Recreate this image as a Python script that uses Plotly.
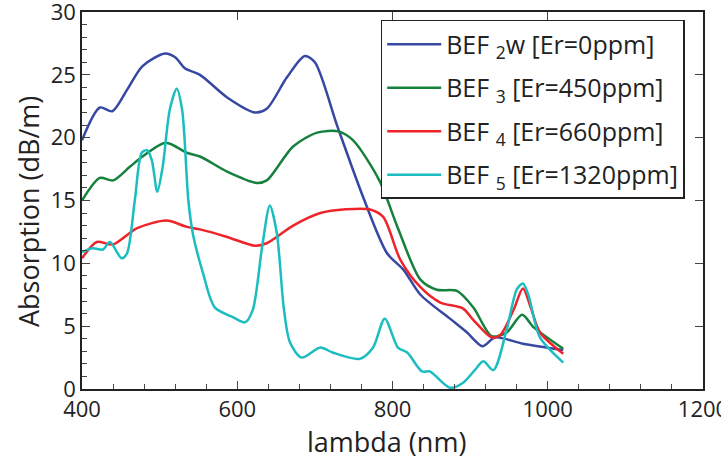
import plotly.graph_objects as go

# ---- data ----
lam_blue = [400, 423, 439, 458, 478, 507, 520, 533, 552, 587, 623, 638, 664, 687, 700, 729, 762,
            793, 814, 836, 874, 896, 916, 932, 968, 1020]
abs_blue = [19.8, 22.4, 22.1, 23.8, 25.7, 26.7, 26.4, 25.5, 25.0, 23.2, 22.0, 22.3, 24.8, 26.5, 26.0, 20.9, 15.3,
            10.8, 9.5, 7.5, 5.6, 4.5, 3.4, 4.1, 3.6, 3.1]

lam_green = [400, 423, 440, 462, 478, 508, 535, 552, 587, 625, 638, 672, 703, 730, 749, 783,
             807, 836, 857, 883, 904, 928, 947, 967, 982, 1020]
abs_green = [15.0, 16.8, 16.6, 17.7, 18.5, 19.6, 18.8, 18.5, 17.3, 16.4, 16.6, 19.3, 20.4, 20.5, 19.8, 16.6,
             12.8, 8.7, 7.9, 7.8, 6.5, 4.2, 4.5, 5.9, 4.9, 3.2]

lam_red = [400, 419, 440, 471, 509, 535, 552, 587, 623, 638, 672, 707, 740, 770, 788,
           810, 836, 861, 891, 904, 928, 939, 956, 968, 978, 990, 1020]
abs_red = [10.4, 11.7, 11.5, 12.8, 13.4, 12.9, 12.7, 12.1, 11.4, 11.6, 13.0, 14.0, 14.3, 14.3, 13.7,
           10.3, 8.1, 6.9, 6.4, 5.5, 4.1, 4.3, 6.3, 8.0, 6.5, 4.5, 2.8]

lam_cyan = [400, 414, 427, 436, 451, 458, 468, 477, 484, 490, 497, 504, 513, 522, 529, 537,
            543, 556, 571, 595, 610, 620, 632, 642, 651, 660, 668, 683, 707, 723, 758,
            775, 790, 807, 819, 838, 848, 874, 891, 906, 917, 930, 947, 960, 968, 975, 990, 1020]
abs_cyan = [10.9, 11.2, 11.1, 11.7, 10.4, 10.8, 15.0, 18.8, 19.0, 18.2, 15.7, 17.7, 22.2, 23.9, 22.2, 15.0,
            12.3, 9.2, 6.5, 5.7, 5.3, 6.3, 11.3, 14.6, 12.4, 6.4, 3.7, 2.5, 3.3, 2.9, 2.4,
            3.3, 5.6, 3.3, 2.9, 1.4, 1.4, 0.1, 0.5, 1.5, 2.2, 1.5, 4.7, 7.9, 8.4, 7.5, 4.1, 2.1]

names = ["BEF <sub>2</sub>w [Er=0ppm]", "BEF <sub>3</sub> [Er=450ppm]",
         "BEF <sub>4</sub> [Er=660ppm]", "BEF <sub>5</sub> [Er=1320ppm]"]
colors = ["#3748A3", "#15813D", "#EE242B", "#1CBDC0"]

x_ticks = [400, 600, 800, 1000, 1200]
y_ticks = [0, 5, 10, 15, 20, 25, 30]
x_title = "lambda (nm)"
y_title = "Absorption (dB/m)"

FONT = "Open Sans"
TXT = "#222"

fig = go.Figure()
series = [(lam_blue, abs_blue), (lam_green, abs_green), (lam_red, abs_red), (lam_cyan, abs_cyan)]
for i, ((xs, ys), nm, c) in enumerate(zip(series, names, colors)):
    fig.add_trace(go.Scatter(x=xs, y=ys, name=nm, mode="lines", legendgroup=f"g{i}",
                             line=dict(color=c, width=2.5, shape="spline", smoothing=0.8)))

# invisible trace for the mirrored (top/right) major ticks
fig.add_trace(go.Scatter(x=[400], y=[0], xaxis="x2", yaxis="y2", mode="markers",
                         marker=dict(opacity=0), showlegend=False, hoverinfo="skip"))

axis_common = dict(showgrid=False, zeroline=False, showline=True, linecolor=TXT,
                   linewidth=1.5, ticks="inside", tickcolor="#444", tickwidth=1.2,
                   ticklen=8, tickfont=dict(family=FONT, size=22, color=TXT),
                   automargin=False, ticklabeloverflow="allow", mirror=True)

fig.update_layout(
    width=721, height=458,
    margin=dict(l=82, r=18, t=12, b=69),
    paper_bgcolor="white", plot_bgcolor="white",
    font=dict(family=FONT, color=TXT),
    xaxis=dict(range=[400, 1200], tickvals=x_ticks, ticktext=[str(v) for v in x_ticks],
               minor=dict(dtick=40, ticklen=5, ticks="inside", tickcolor="#444"),
               **axis_common),
    yaxis=dict(range=[0, 30], tickvals=y_ticks, ticktext=[str(v) for v in y_ticks],
               minor=dict(dtick=1, ticklen=5, ticks="inside", tickcolor="#444"),
               **axis_common),
    xaxis2=dict(range=[400, 1200], overlaying="x", side="top", tickvals=x_ticks,
                showticklabels=False, ticks="inside", ticklen=8, tickcolor="#444",
                showgrid=False, zeroline=False, showline=False),
    yaxis2=dict(range=[0, 30], overlaying="y", side="right", tickvals=y_ticks,
                showticklabels=False, ticks="inside", ticklen=8, tickcolor="#444",
                showgrid=False, zeroline=False, showline=False),
    legend=dict(x=0.481, y=0.979, xanchor="left", yanchor="top",
                bgcolor="white", bordercolor=TXT, borderwidth=1.5,
                font=dict(family=FONT, size=25, color=TXT),
                itemwidth=54, tracegroupgap=8),
    showlegend=True,
    annotations=[
        dict(text=x_title, xref="paper", yref="paper", x=0.49, y=-0.14,
             xanchor="center", yanchor="middle", showarrow=False,
             font=dict(family=FONT, size=27, color=TXT)),
        dict(text=y_title, xref="paper", yref="paper", x=-0.085, y=0.47,
             xanchor="center", yanchor="middle", showarrow=False, textangle=-90,
             font=dict(family=FONT, size=27, color=TXT)),
    ],
)

fig.write_html("out.html", config={"displayModeBar": False},
               post_script="document.body.style.margin='0';document.body.style.padding='0';")
